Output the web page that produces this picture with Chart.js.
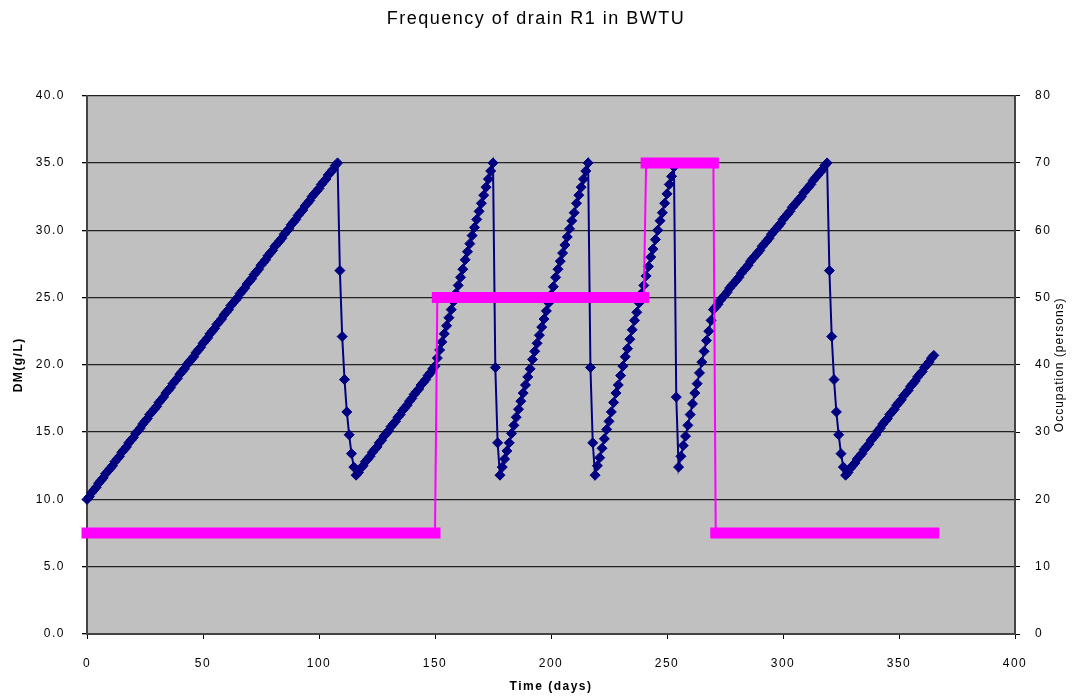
<!DOCTYPE html>
<html>
<head>
<meta charset="utf-8">
<script src="https://cdn.jsdelivr.net/npm/chart.js@4/dist/chart.umd.min.js"></script>
<style>
  html, body { margin: 0; padding: 0; background: #ffffff; }
  #wrap { width: 1072px; height: 697px; position: relative; }
  canvas { display: block; }
</style>
</head>
<body>
<div id="wrap"><canvas id="chart" width="1072" height="697"></canvas></div>
<script>
// Dry matter in drain R1, one value per day (day 0 .. 365), g/L
const dmValues = [
  10.0,10.2,10.5,10.7,10.9,11.2,11.4,11.6,11.9,12.1,
  12.3,12.5,12.8,13.0,13.2,13.5,13.7,13.9,14.2,14.4,
  14.6,14.9,15.1,15.3,15.6,15.8,16.0,16.3,16.5,16.7,
  16.9,17.2,17.4,17.6,17.9,18.1,18.3,18.6,18.8,19.0,
  19.3,19.5,19.7,20.0,20.2,20.4,20.6,20.9,21.1,21.3,
  21.6,21.8,22.0,22.3,22.5,22.7,23.0,23.2,23.4,23.7,
  23.9,24.1,24.4,24.6,24.8,25.0,25.3,25.5,25.7,26.0,
  26.2,26.4,26.7,26.9,27.1,27.4,27.6,27.8,28.1,28.3,
  28.5,28.8,29.0,29.2,29.4,29.7,29.9,30.1,30.4,30.6,
  30.8,31.1,31.3,31.5,31.8,32.0,32.2,32.5,32.7,32.9,
  33.1,33.4,33.6,33.8,34.1,34.3,34.5,34.8,35.0,
  27.0,22.1,18.9,16.5,14.8,13.4,12.4,11.8,
  12.0,12.3,12.5,12.8,13.0,13.2,13.5,13.7,13.9,14.2,
  14.4,14.7,14.9,15.1,15.4,15.6,15.8,16.1,16.3,16.6,
  16.8,17.0,17.3,17.5,17.8,18.0,18.2,18.5,18.7,18.9,
  19.2,19.4,19.7,19.9,
  20.5,21.1,21.7,22.3,22.9,23.5,24.1,24.7,25.3,25.9,
  26.5,27.1,27.8,28.4,29.0,29.6,30.2,30.8,31.4,32.0,
  32.6,33.2,33.8,34.4,35.0,
  19.8,14.2,11.8,
  12.4,13.0,13.6,14.2,14.9,15.5,16.1,16.7,17.3,17.9,
  18.5,19.1,19.7,20.4,21.0,21.6,22.2,22.8,23.4,24.0,
  24.6,25.2,25.8,26.5,27.1,27.7,28.3,28.9,29.5,30.1,
  30.7,31.3,32.0,32.6,33.2,33.8,34.4,35.0,
  19.8,14.2,11.8,
  12.5,13.1,13.8,14.5,15.2,15.8,16.5,17.2,17.9,18.5,
  19.2,19.9,20.6,21.2,21.9,22.6,23.3,23.9,24.6,25.3,
  25.9,26.6,27.3,28.0,28.6,29.3,30.0,30.7,31.3,32.0,
  32.7,33.4,34.0,34.7,
  17.6,12.4,
  13.2,14.0,14.7,15.5,16.3,17.1,17.9,18.6,19.4,20.2,
  21.0,21.8,22.5,23.3,24.1,
  24.3,24.5,24.8,25.0,25.2,25.4,25.7,25.9,26.1,26.3,
  26.5,26.8,27.0,27.2,27.4,27.7,27.9,28.1,28.3,28.5,
  28.8,29.0,29.2,29.4,29.7,29.9,30.1,30.3,30.5,30.8,
  31.0,31.2,31.4,31.7,31.9,32.1,32.3,32.5,32.8,33.0,
  33.2,33.4,33.7,33.9,34.1,34.3,34.5,34.8,35.0,
  27.0,22.1,18.9,16.5,14.8,13.4,12.4,11.8,
  12.0,12.3,12.5,12.7,13.0,13.2,13.4,13.7,13.9,14.1,
  14.4,14.6,14.8,15.1,15.3,15.6,15.8,16.0,16.3,16.5,
  16.7,17.0,17.2,17.4,17.7,17.9,18.1,18.4,18.6,18.8,
  19.1,19.3,19.5,19.8,20.0,20.2,20.5,20.7
];

// Occupation periods: first day, last day, persons
const occStart   = [0, 151, 241, 271];
const occEnd     = [150, 240, 270, 365];
const occPersons = [15, 50, 70, 15];

// Axis texts
const chartTitle = 'Frequency of drain R1 in BWTU';
const xTitle = 'Time (days)';
const yLeftTitle = 'DM(g/L)';
const yRightTitle = 'Occupation (persons)';

// Build plotting points from the arrays above
const dmPoints = dmValues.map((v, day) => ({ x: day, y: v }));

const occLine = [];
const occBars = [];
occPersons.forEach((p, i) => {
  occLine.push({ x: occStart[i], y: p }, { x: occEnd[i], y: p });
  if (i > 0) occBars.push({ x: occStart[i] - 0.5, y: null });
  occBars.push({ x: occStart[i], y: p }, { x: occEnd[i], y: p });
});

const FONT = "'Liberation Sans', Arial, sans-serif";

// Grey plotting area
const plotBackground = {
  id: 'plotBackground',
  beforeDraw(chart) {
    const { ctx, chartArea: a } = chart;
    ctx.save();
    ctx.fillStyle = '#C0C0C0';
    ctx.fillRect(a.left, a.top, a.right - a.left, a.bottom - a.top);
    ctx.restore();
  }
};

// Slightly spaced lettering for all chart text
const letterSpacing = {
  id: 'letterSpacing',
  beforeUpdate(chart) { chart.ctx.letterSpacing = '1.5px'; },
  beforeDraw(chart) { chart.ctx.letterSpacing = '1.5px'; }
};

// Secondary axis title, reading bottom to top
const rightAxisTitle = {
  id: 'rightAxisTitle',
  afterDraw(chart) {
    const { ctx, chartArea: a } = chart;
    ctx.save();
    ctx.letterSpacing = '1px';
    ctx.translate(1060, (a.top + a.bottom) / 2);
    ctx.rotate(-Math.PI / 2);
    ctx.fillStyle = '#000';
    ctx.font = `12px ${FONT}`;
    ctx.textAlign = 'center';
    ctx.textBaseline = 'middle';
    ctx.fillText(yRightTitle, 0, 0);
    ctx.restore();
  }
};

new Chart(document.getElementById('chart'), {
  type: 'line',
  data: {
    datasets: [
      {
        label: 'Occupation',
        data: occBars,
        yAxisID: 'yOcc',
        borderColor: '#FF00FF',
        borderWidth: 11,
        borderCapStyle: 'square',
        pointRadius: 0,
        spanGaps: false,
        clip: false
      },
      {
        label: 'Occupation steps',
        data: occLine,
        yAxisID: 'yOcc',
        borderColor: '#FF00FF',
        borderWidth: 2,
        pointRadius: 0,
        clip: false
      },
      {
        label: 'DM',
        data: dmPoints,
        yAxisID: 'y',
        borderColor: '#000080',
        borderWidth: 2,
        pointStyle: 'rectRot',
        pointRadius: 5,
        pointBackgroundColor: '#000080',
        pointBorderColor: '#000080',
        pointBorderWidth: 1,
        tension: 0,
        clip: false
      }
    ]
  },
  options: {
    responsive: false,
    animation: false,
    devicePixelRatio: 1,
    layout: { padding: 0 },
    plugins: {
      legend: { display: false },
      tooltip: { enabled: false },
      title: {
        display: true,
        text: chartTitle,
        color: '#000',
        font: { family: FONT, size: 18, weight: 'normal' },
        padding: { top: 8, bottom: 66 }
      }
    },
    scales: {
      x: {
        type: 'linear',
        min: 0,
        max: 400,
        ticks: { stepSize: 50, color: '#000', font: { family: FONT, size: 12 }, padding: 17, maxRotation: 0, autoSkip: false },
        grid: { drawOnChartArea: false, color: '#000', tickLength: 5 },
        border: { display: true, color: '#444', width: 2 },
        title: {
          display: true, text: xTitle, color: '#000',
          font: { family: FONT, size: 12, weight: 'bold' },
          padding: { top: 0, bottom: 3 }
        },
        afterFit(scale) { scale.height = 63; }
      },
      y: {
        position: 'left',
        min: 0,
        max: 40,
        ticks: {
          stepSize: 5, color: '#000', font: { family: FONT, size: 12 }, padding: 17,
          callback: v => v.toFixed(1)
        },
        grid: { color: '#222', lineWidth: 1.3, tickLength: 5, tickColor: '#000' },
        border: { display: true, color: '#444', width: 2 },
        title: {
          display: true, text: yLeftTitle, color: '#000',
          font: { family: FONT, size: 12, weight: 'bold' },
          padding: { top: 11, bottom: 0 }
        },
        afterFit(scale) { scale.width = 87; }
      },
      yOcc: {
        position: 'right',
        min: 0,
        max: 80,
        ticks: { stepSize: 10, color: '#000', font: { family: FONT, size: 12 }, padding: 15 },
        grid: { drawOnChartArea: false, color: '#000', tickLength: 5 },
        border: { display: true, color: '#444', width: 2 },
        afterFit(scale) { scale.width = 57; }
      }
    }
  },
  plugins: [letterSpacing, plotBackground, rightAxisTitle]
});
</script>
</body>
</html>
